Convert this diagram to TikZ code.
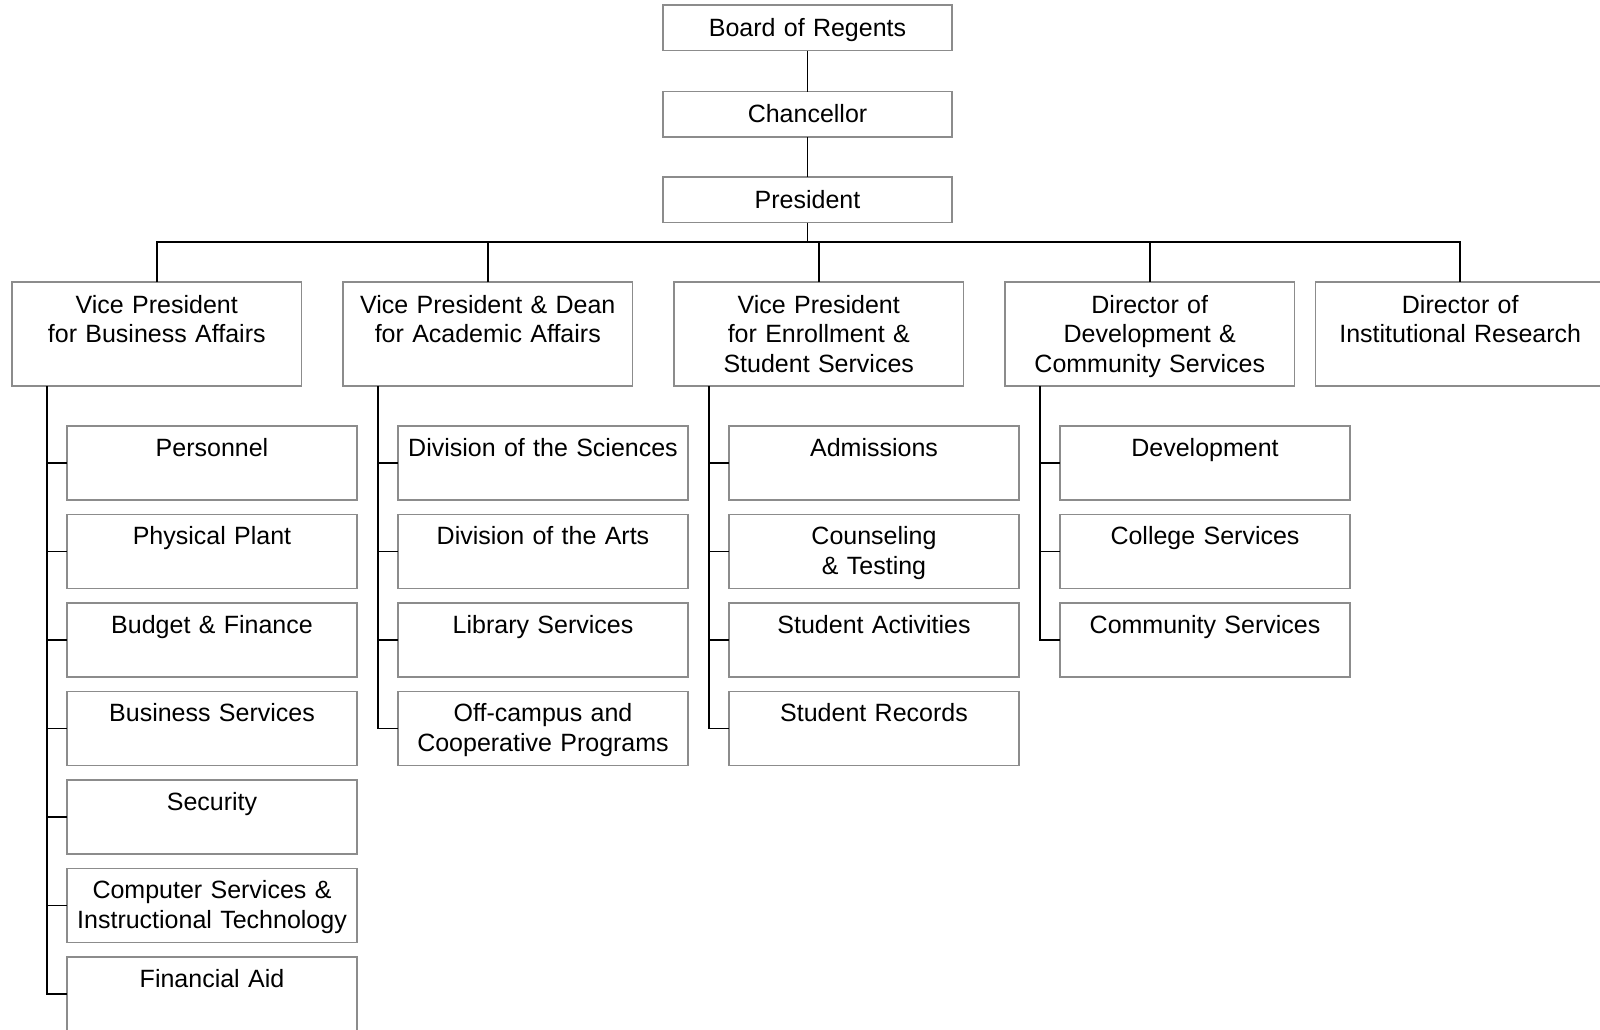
\documentclass[tikz,border=0pt]{standalone}
\usepackage{fontspec}
\setmainfont{Liberation Sans}
\usetikzlibrary{positioning}
\usetikzlibrary{calc}

\begin{document}
\begin{tikzpicture}[
    x=1pt, y=1pt,
    % Top of the chart
    head block/.style={
        draw=black!45,
        line width=1.6pt,
        inner sep=0pt,
        outer sep=0pt,
        text width=289pt,
        text height=31pt,
        text depth=14.5pt,
        align=center,
        font=\fontsize{25}{29.6}\selectfont
    },
    % Vice presidents and directors
    vp block/.style={
        head block,
        text width=289.5pt,
        text height=31pt,
        text depth=73pt
    },
    % Offices under them
    unit block/.style={
        head block,
        text width=290pt,
        text height=30pt,
        text depth=44pt
    },
    % Connector
    link/.style={
        draw=black,
        line width=1.9pt
    }
]

\useasboundingbox (0,0) rectangle (1600,-1029);

% Top blocks
\node[head block, anchor=north west] (regents) at (663,-5) {Board of Regents};
\node[head block, below=41pt of regents] (chancellor) {Chancellor};
\node[head block, below=40pt of chancellor] (president) {President};
\coordinate (bus) at ($(president.south)+(0,-19.5)$);

% Second row
\node[vp block, anchor=north west] (vpbus) at (12,-282) {Vice President\\for Business Affairs};
\node[vp block, right=41.5pt of vpbus] (vpacad) {Vice President \& Dean\\for Academic Affairs};
\node[vp block, right=41.5pt of vpacad] (vpenrol) {Vice President\\for Enrollment \&\\Student Services};
\node[vp block, right=41.5pt of vpenrol] (devdir) {Director of\\Development \&\\Community Services};
\node[vp block, right=21pt of devdir] (irdir) {Director of\\Institutional Research};

% Business affairs offices
\node[unit block, anchor=north west] (personnel) at ($(vpbus.south west)+(55,-40)$) {Personnel};
\node[unit block, below=14.5pt of personnel] (plant) {Physical Plant};
\node[unit block, below=14.5pt of plant] (budget) {Budget \& Finance};
\node[unit block, below=14.5pt of budget] (bizserv) {Business Services};
\node[unit block, below=14.5pt of bizserv] (security) {Security};
\node[unit block, below=14.5pt of security] (compserv) {Computer Services \&\\Instructional Technology};
\node[unit block, below=14.5pt of compserv] (finaid) {Financial Aid};

% Academic affairs offices
\node[unit block, anchor=north west] (sciences) at ($(vpacad.south west)+(55,-40)$) {Division of the Sciences};
\node[unit block, below=14.5pt of sciences] (arts) {Division of the Arts};
\node[unit block, below=14.5pt of arts] (library) {Library Services};
\node[unit block, below=14.5pt of library] (offcampus) {Off-campus and\\Cooperative Programs};

% Enrollment offices
\node[unit block, anchor=north west] (admissions) at ($(vpenrol.south west)+(55,-40)$) {Admissions};
\node[unit block, below=14.5pt of admissions] (counseling) {Counseling\\\& Testing};
\node[unit block, below=14.5pt of counseling] (activities) {Student Activities};
\node[unit block, below=14.5pt of activities] (records) {Student Records};

% Development offices
\node[unit block, anchor=north west] (development) at ($(devdir.south west)+(55,-40)$) {Development};
\node[unit block, below=14.5pt of development] (collegeserv) {College Services};
\node[unit block, below=14.5pt of collegeserv] (commserv) {Community Services};

% Spines
\coordinate (busspine) at ($(vpbus.south west)+(35,0)$);
\coordinate (acadspine) at ($(vpacad.south west)+(35,0)$);
\coordinate (enrolspine) at ($(vpenrol.south west)+(35,0)$);
\coordinate (devspine) at ($(devdir.south west)+(35,0)$);

% Top connections
\draw[link] (regents) -- (chancellor);
\draw[link] (chancellor) -- (president);
\draw[link] (president) -- (bus);
\draw[link] (vpbus.north) |- (bus) -| (irdir.north);
\draw[link] (vpacad.north) -- (vpacad.north |- bus);
\draw[link] (vpenrol.north) -- (vpenrol.north |- bus);
\draw[link] (devdir.north) -- (devdir.north |- bus);

% Office connections
\draw[link] (busspine) |- (personnel.west)
    (busspine) |- (plant.west)
    (busspine) |- (budget.west)
    (busspine) |- (bizserv.west)
    (busspine) |- (security.west)
    (busspine) |- (compserv.west)
    (busspine) |- (finaid.west);
\draw[link] (acadspine) |- (sciences.west)
    (acadspine) |- (arts.west)
    (acadspine) |- (library.west)
    (acadspine) |- (offcampus.west);
\draw[link] (enrolspine) |- (admissions.west)
    (enrolspine) |- (counseling.west)
    (enrolspine) |- (activities.west)
    (enrolspine) |- (records.west);
\draw[link] (devspine) |- (development.west)
    (devspine) |- (collegeserv.west)
    (devspine) |- (commserv.west);

\end{tikzpicture}
\end{document}
